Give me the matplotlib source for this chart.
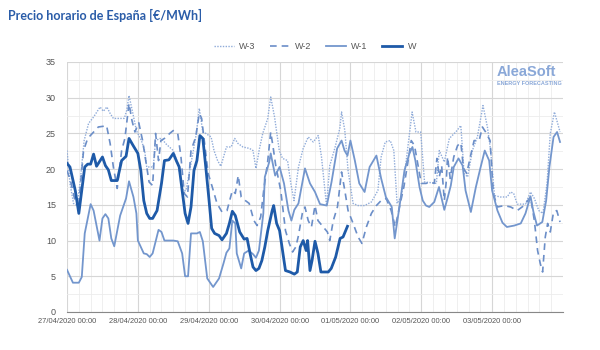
import matplotlib.pyplot as plt
from matplotlib.ticker import MultipleLocator

# hours since 27/04/2020 00:00 and prices (EUR/MWh)
w_h = [0, 1, 2.8, 4, 6, 7, 8, 9, 10, 12, 13, 14, 15, 17, 18.5, 20, 21, 22.4, 24,
       25, 26, 27, 28, 29, 30.5, 32, 33, 34.5, 36, 37, 38, 39, 40, 41, 42, 43, 44,
       45, 46, 47, 48, 49, 50, 51.5, 52.5, 54, 55, 56, 57, 58.5, 60, 61, 62, 63,
       64, 65, 66, 67, 68, 69.5, 70, 71, 72, 73, 74, 75.5, 77, 78, 79, 80, 81,
       81.5, 82.3, 83, 84, 85, 86, 88.5, 89.5, 91, 92.5, 93.5, 95]
w_v = [20.8, 20.3, 17.0, 13.8, 20.3, 20.7, 20.7, 22.1, 20.4, 21.7, 20.5, 19.9,
       18.4, 18.4, 21.2, 21.8, 24.3, 23.3, 22.2, 19.8, 15.6, 13.8, 13.1, 13.1,
       14.2, 18.0, 21.2, 21.3, 22.2, 21.2, 20.3, 17.0, 13.8, 12.4, 14.7, 19.8,
       21.2, 24.7, 24.3, 20.3, 16.1, 11.7, 11.0, 10.7, 10.1, 11.0, 12.4, 14.1,
       13.5, 11.2, 10.2, 10.3, 8.2, 6.3, 5.8, 6.1, 7.2, 9.1, 11.4, 14.2, 14.9,
       12.4, 11.4, 8.6, 5.8, 5.6, 5.3, 5.6, 9.1, 10.0, 8.6, 10.0, 5.8, 7.2, 9.9,
       8.2, 5.6, 5.6, 6.1, 7.7, 10.3, 10.5, 12.0]

w1_h = [0, 2, 4, 5, 6, 8, 9, 11, 12, 13, 14, 15, 16, 18, 20, 21, 22.5, 23.5, 24,
        26, 27, 28, 29, 31, 32, 33, 36, 37.5, 39, 40, 41, 42, 44, 45, 46, 47.5,
        49.5, 51.5, 53, 54, 55, 56, 57, 57.5, 59, 60, 61.5, 63, 64, 65, 66.5, 67,
        68.5, 69, 70.5, 72, 73.5, 75, 76, 77, 78.4, 80.6, 82.3, 84, 85.7, 88, 89.6,
        91.5, 93, 94, 95, 96, 97.5, 99, 100.8, 102.5, 104.8, 106.4, 108, 110, 111,
        112.6, 114.3, 116, 117, 118, 119.4, 120.5, 121.6, 122.7, 124.4, 126, 127.8,
        129, 130, 131, 132.6, 134, 135, 136.8, 138.5, 140, 141.5, 143, 144, 145.8,
        147.5, 149, 151.5, 153.7, 155.3, 157, 158, 159.2, 161, 162.3, 163.4, 164.8,
        166, 167]
w1_v = [5.9, 4.1, 4.1, 4.9, 11.0, 15.1, 14.2, 10.0, 13.1, 13.7, 13.1, 10.3, 9.2,
        13.5, 15.9, 18.3, 16.1, 13.8, 10.0, 8.2, 8.1, 7.7, 8.2, 11.5, 11.2, 10.0,
        10.0, 9.9, 8.2, 5.0, 5.0, 11.0, 11.0, 11.2, 9.9, 4.7, 3.5, 4.7, 6.8, 8.3,
        8.9, 12.8, 12.4, 8.2, 6.1, 8.2, 8.6, 8.1, 7.6, 8.6, 13.8, 18.9, 21.0, 22.2,
        19.1, 20.3, 18.0, 14.2, 12.8, 14.3, 15.2, 20.1, 18.0, 16.8, 15.1, 14.9,
        18.2, 22.9, 24.0, 22.6, 21.9, 24.0, 21.2, 18.0, 16.8, 20.3, 21.9, 18.7,
        16.1, 14.7, 10.3, 14.7, 19.8, 22.2, 23.1, 21.2, 17.5, 15.6, 14.9, 14.7,
        15.4, 17.5, 14.3, 16.1, 17.7, 20.3, 21.5, 20.5, 17.0, 14.0, 17.5, 20.1,
        22.6, 21.2, 17.0, 14.2, 12.5, 11.9, 12.1, 12.4, 13.8, 16.2, 14.0, 12.1,
        12.6, 15.6, 20.3, 24.5, 25.2, 23.8]

w2_h = [0, 1.3, 2.8, 4, 5.6, 7, 9, 10.6, 12.3, 13.4, 14.6, 15.7, 17, 18.5, 19.6,
        21, 22, 23, 24.3, 25.6, 27, 27.8, 29, 30, 31, 31.8, 33, 34.8, 36, 37.5,
        38.6, 39.7, 40.8, 42, 43.6, 44.8, 45.6, 46.6, 47.8, 49.2, 50.8, 52.5, 54.2,
        56, 57, 58, 59, 60.4, 61.7, 63.3, 64.4, 65.6, 66.7, 67.9, 69, 69.8, 70.7,
        72.4, 74, 75.3, 76.4, 77.5, 78.4, 79.7, 80.6, 81.7, 82.8, 84, 85, 86.8,
        88.2, 89, 90.2, 91.6, 93, 94.1, 95.2, 96.9, 98.6, 99.9, 101.4, 103.1,
        104.8, 106.4, 108.1, 109.8, 111.2, 112.6, 114.1, 115.4, 116.6, 117.7,
        118.8, 120, 121.6, 123.1, 124.4, 125.3, 126.1, 126.9, 127.8, 128.4, 128.9,
        129.8, 131, 132.3, 133.4, 134.3, 135.4, 136.6, 137.9, 139.6, 140.7, 141.8,
        143.3, 144.4, 145.8, 148.1, 150.3, 152.5, 154.8, 157, 158.3, 159.4, 160.3,
        161.1, 162, 162.8, 163.7, 164.8, 165.9, 167]
w2_v = [19.8, 18.2, 15.4, 15.2, 22.6, 24.3, 25.2, 25.9, 26.0, 26.1, 23.6, 20.3,
        17.3, 22.6, 24.3, 29.2, 26.8, 25.2, 26.5, 24.0, 20.3, 18.2, 17.7, 25.0,
        21.2, 24.0, 24.3, 25.0, 25.4, 25.0, 21.7, 16.6, 16.1, 22.6, 24.5, 27.8,
        27.1, 23.6, 19.4, 17.5, 15.2, 14.0, 14.2, 17.0, 16.6, 19.1, 16.1, 15.6,
        15.2, 12.8, 12.1, 13.3, 17.3, 20.8, 25.2, 23.1, 20.5, 17.0, 11.4, 9.6, 8.4,
        9.1, 10.7, 13.8, 14.7, 12.8, 11.9, 14.9, 12.8, 11.9, 11.2, 10.0, 12.8,
        14.7, 19.6, 17.0, 14.2, 12.4, 10.5, 9.6, 11.9, 13.8, 14.9, 15.6, 15.9,
        14.2, 11.9, 14.7, 17.5, 20.8, 24.0, 23.3, 20.8, 18.0, 18.0, 18.2, 18.0,
        21.5, 18.9, 20.5, 15.6, 18.0, 21.7, 18.7, 21.7, 23.3, 23.7, 20.1, 19.4,
        21.7, 24.0, 24.0, 25.9, 25.2, 24.0, 16.6, 14.7, 14.9, 14.7, 14.2, 14.9,
        16.1, 12.8, 8.6, 6.8, 5.6, 10.5, 12.4, 11.2, 14.0, 14.2, 12.6]

w3_h = [0, 1, 2.2, 3.4, 4.5, 5.8, 7.3, 9, 11.2, 12.3, 13.5, 14.6, 15.7, 18, 19.4,
        20.2, 21, 22.2, 23.5, 25.2, 26.3, 27, 29.2, 30, 31.5, 32.6, 33.6, 36,
        37.5, 39.3, 40.3, 42, 43.7, 44.8, 46, 47, 48.8, 49.8, 51, 52.1, 54, 55.6,
        56.8, 57.9, 59.6, 61.8, 63, 64, 65.2, 66.3, 68, 69, 70.3, 71.9, 73, 74.7,
        75.8, 76.9, 78.4, 80, 81.7, 83.4, 85.1, 86.2, 87.9, 89, 90.7, 92.4, 93,
        94.1, 95.2, 96.9, 98.6, 100.8, 103.1, 105.3, 106.4, 107.8, 109.5, 110.7,
        111.8, 113.2, 114.9, 116.9, 118.2, 119.8, 121.1, 123.4, 125.1, 126.1,
        127.8, 129.5, 131.7, 133.4, 134.5, 135.7, 137.3, 139, 140.9, 142.4, 143.5,
        144.8, 146.8, 149.1, 150.2, 151.3, 152.5, 155.3, 157, 158.3, 159.8, 161.2,
        162.6, 163.7, 165.1, 166.2, 167]
w3_v = [22.6, 18.0, 15.2, 14.9, 18.4, 24.0, 26.4, 27.3, 28.7, 28.1, 28.7, 27.8,
        27.1, 27.1, 27.1, 28.2, 30.3, 28.0, 25.4, 24.0, 22.6, 20.3, 20.3, 24.0,
        24.3, 24.0, 23.5, 22.6, 20.8, 17.0, 17.0, 20.8, 24.7, 28.5, 25.2, 25.0,
        24.5, 22.6, 21.2, 20.4, 23.1, 23.1, 24.3, 23.6, 23.1, 22.9, 22.6, 20.1,
        22.9, 25.0, 27.1, 30.1, 27.3, 22.6, 21.5, 21.2, 18.0, 15.6, 20.3, 22.9,
        24.5, 23.8, 24.7, 21.7, 14.9, 20.5, 22.9, 25.7, 28.0, 25.4, 19.8, 15.2,
        14.9, 14.9, 15.4, 17.0, 21.7, 23.8, 24.0, 22.6, 15.2, 16.1, 21.2, 28.0,
        25.2, 25.2, 18.2, 18.1, 18.0, 22.6, 21.0, 24.3, 25.2, 26.1, 19.4, 18.9,
        22.6, 24.5, 28.9, 25.9, 22.6, 16.3, 16.1, 16.1, 16.8, 16.6, 15.1, 15.1,
        16.8, 15.9, 14.2, 13.8, 18.0, 25.0, 28.0, 26.4, 25.2]

day_labels = ['27/04/2020 00:00', '28/04/2020 00:00', '29/04/2020 00:00',
              '30/04/2020 00:00', '01/05/2020 00:00', '02/05/2020 00:00',
              '03/05/2020 00:00']

plt.rcParams['font.family'] = ['Liberation Sans', 'DejaVu Sans']

fig = plt.figure(figsize=(6, 3.5), dpi=100)
ax = fig.add_axes([0.1117, 0.1086, 0.8266, 0.7143])

ax.plot(w3_h, w3_v, color='#8fabd9', lw=1.0, ls=(0, (1, 1)), label='W-3')
ax.plot(w2_h, w2_v, color='#6b8ec8', lw=1.2, ls=(0, (4, 3)), label='W-2')
ax.plot(w1_h, w1_v, color='#7396cd', lw=1.3, label='W-1')
ax.plot(w_h, w_v, color='#1e5aa8', lw=2.0, label='W')

ax.set_xlim(0, 168)
ax.set_ylim(0, 35)
ax.set_xticks(range(0, 168, 24))
ax.set_xticklabels(day_labels)
ax.xaxis.set_minor_locator(MultipleLocator(4))
ax.yaxis.set_major_locator(MultipleLocator(5))
ax.yaxis.set_minor_locator(MultipleLocator(2.5))
ax.grid(True, which='major', color='#d6d6d6', lw=0.8)
ax.grid(True, which='minor', color='#ececec', lw=0.6)
ax.set_axisbelow(True)
ax.tick_params(which='both', length=0, labelcolor='#555555')
ax.tick_params(axis='y', labelsize=6.5, pad=8)
ax.tick_params(axis='x', labelsize=5.4, pad=4)
for s in ['top', 'right', 'left']:
    ax.spines[s].set_visible(False)
ax.spines['bottom'].set_color('#888888')

ax.legend(loc='lower center', bbox_to_anchor=(0.5, 1.01), ncol=4, frameon=False,
          fontsize=6.5, handlelength=2.2, columnspacing=1.6, handletextpad=0.6,
          labelcolor='#555555')

fig.text(0.013, 0.955, 'Precio horario de España [€/MWh]', fontsize=9,
         color='#2a5ca8', fontweight='bold', family=['Lato', 'DejaVu Sans'],
         va='center')

ax.text(0.985, 0.96, 'AleaSoft', transform=ax.transAxes, ha='right', va='center',
        fontsize=10.5, fontweight='bold', color='#8aa8d8')
ax.text(0.998, 0.915, 'ENERGY FORECASTING', transform=ax.transAxes, ha='right',
        va='center', fontsize=4, fontweight='bold', color='#8aa8d8')

fig.savefig('out.png', dpi=100)
